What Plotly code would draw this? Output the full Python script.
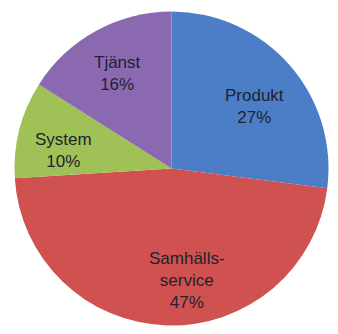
import math
import plotly.graph_objects as go

# Share of projects per category
labels = ["Produkt", "Samhällsservice", "System", "Tjänst"]
label_text = ["Produkt", "Samhälls-<br>service", "System", "Tjänst"]
values = [27, 47, 10, 16]
colors = ["#4b7ec6", "#cf5250", "#9fc155", "#8a69b1"]

# Pie placement (paper fractions) and where each label sits inside its slice
W, H = 338, 334
cx, cy, r = 171.5, 165.5, 157.0  # centre measured from bottom-left, radius in px
label_radius = [0.66, 0.72, 0.70, 0.70]
label_shift_deg = [4.6, -9.7, -5.2, -0.9]

fig = go.Figure(
    go.Pie(
        labels=labels,
        values=values,
        sort=False,
        direction="clockwise",
        rotation=0,
        marker=dict(colors=colors, line=dict(width=0)),
        textinfo="none",
        hoverinfo="label+percent",
        domain=dict(x=[(cx - r) / W, (cx + r) / W], y=[(cy - r) / H, (cy + r) / H]),
        showlegend=False,
    )
)

# Labels placed near each slice's mid-angle
total = sum(values)
acc = 0.0
annotations = []
for txt, v, lr, sh in zip(label_text, values, label_radius, label_shift_deg):
    mid = (acc + v / 2) / total * 2 * math.pi + math.radians(sh)  # clockwise from 12 o'clock
    acc += v
    px = cx + lr * r * math.sin(mid)
    py = cy + lr * r * math.cos(mid)
    pct = round(v / total * 100)
    annotations.append(
        dict(
            x=px / W,
            y=py / H,
            xref="paper",
            yref="paper",
            text=f"{txt}<br>{pct}%",
            showarrow=False,
            font=dict(family="Liberation Sans, Arial, sans-serif", size=17, color="#1e2230"),
            align="center",
            xanchor="center",
            yanchor="middle",
        )
    )

fig.update_layout(
    width=W,
    height=H,
    margin=dict(l=0, r=0, t=0, b=0),
    paper_bgcolor="white",
    plot_bgcolor="white",
    annotations=annotations,
)

fig.write_html("out.html")
